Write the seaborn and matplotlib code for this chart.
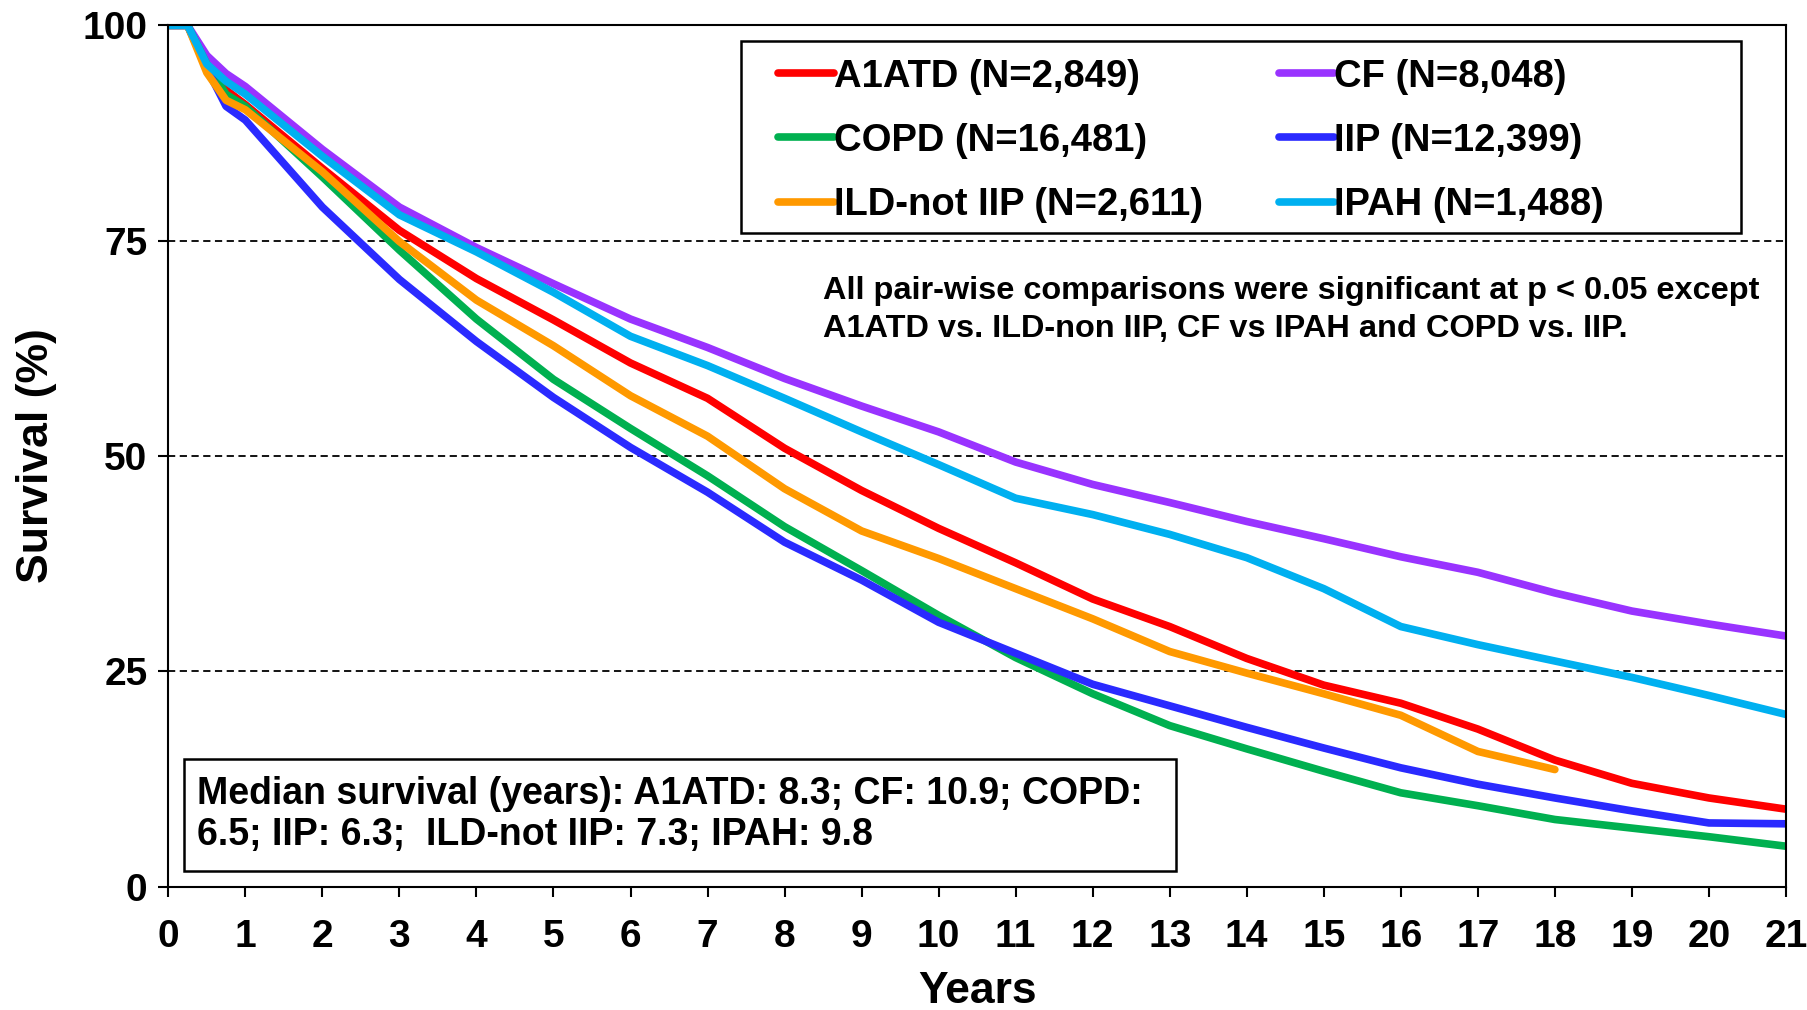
import numpy as np
import pandas as pd
import matplotlib
matplotlib.use("Agg")
import matplotlib.pyplot as plt
from matplotlib.patches import Rectangle
import seaborn as sns

years = [0, 0.25, 0.5, 0.75, 1, 2, 3, 4, 5, 6, 7, 8, 9, 10, 11, 12, 13, 14, 15, 16, 17, 18, 19, 20, 21]

a1atd = [100, 100, 95.5, 92.5, 90.8, 83.4, 76.2, 70.6, 65.8, 60.8, 56.7, 50.9, 46.0, 41.6, 37.6, 33.4, 30.2, 26.5, 23.4, 21.3, 18.3, 14.7, 12.0, 10.3, 9.0]
cf = [100, 100, 96.5, 94.4, 92.9, 85.6, 78.9, 74.2, 70.0, 65.9, 62.6, 59.0, 55.8, 52.8, 49.3, 46.7, 44.6, 42.4, 40.4, 38.3, 36.5, 34.1, 32.0, 30.5, 29.1]
copd = [100, 100, 95.5, 92.0, 90.6, 82.4, 73.9, 65.9, 58.9, 53.2, 47.7, 41.8, 36.7, 31.5, 26.6, 22.4, 18.7, 16.0, 13.4, 10.9, 9.4, 7.8, 6.8, 5.8, 4.7]
iip = [100, 100, 95.0, 90.6, 89.0, 78.9, 70.5, 63.3, 56.8, 51.0, 45.8, 40.0, 35.6, 30.7, 27.1, 23.5, 21.0, 18.5, 16.1, 13.8, 11.9, 10.3, 8.8, 7.4, 7.3]
ild = [100, 100, 94.5, 91.3, 90.2, 83.0, 74.9, 68.1, 62.8, 57.0, 52.3, 46.2, 41.3, 38.1, 34.6, 31.1, 27.3, 24.8, 22.4, 19.9, 15.7, 13.6, None, None, None]
ipah = [100, 100, 95.5, 93.5, 92.0, 84.8, 78.0, 73.7, 69.0, 63.9, 60.5, 56.7, 52.8, 49.0, 45.1, 43.2, 40.9, 38.2, 34.6, 30.2, 28.1, 26.2, 24.3, 22.2, 20.0]

labels = ["A1ATD (N=2,849)", "CF (N=8,048)", "COPD (N=16,481)",
          "IIP (N=12,399)", "ILD-not IIP (N=2,611)", "IPAH (N=1,488)"]
series = [a1atd, cf, copd, iip, ild, ipah]
colors = ["#FF0000", "#9933FF", "#00B050", "#2A2AFF", "#FF9900", "#00B0F0"]

x_ticks = list(range(0, 22))
y_ticks = [0, 25, 50, 75, 100]

note_text = ("All pair-wise comparisons were significant at p < 0.05 except\n"
             "A1ATD vs. ILD-non IIP, CF vs IPAH and COPD vs. IIP.")
median_text = ("Median survival (years): A1ATD: 8.3; CF: 10.9; COPD:\n"
               "6.5; IIP: 6.3;  ILD-not IIP: 7.3; IPAH: 9.8")

rows = []
for lab, vals in zip(labels, series):
    for x, v in zip(years, vals):
        if v is not None:
            rows.append({"Years": x, "Survival": v, "Group": lab})
df = pd.DataFrame(rows)

sns.set_style("ticks")
plt.rcParams["font.family"] = ["Liberation Sans", "DejaVu Sans"]
plt.rcParams["font.weight"] = "bold"
plt.rcParams["text.color"] = "black"
plt.rcParams["axes.labelcolor"] = "black"
plt.rcParams["xtick.color"] = "black"
plt.rcParams["ytick.color"] = "black"
plt.rcParams["lines.solid_capstyle"] = "round"
plt.rcParams["lines.solid_joinstyle"] = "round"

fig = plt.figure(figsize=(18.08, 10.10), dpi=100)
ax = fig.add_axes([0.0931, 0.1221, 0.8947, 0.8528])

palette = dict(zip(labels, colors))
sns.lineplot(data=df, x="Years", y="Survival", hue="Group", hue_order=labels,
             palette=palette, linewidth=5.5, errorbar=None, ax=ax, legend="auto")

for y in [25, 50, 75]:
    ax.axhline(y, color="black", linestyle=(0, (4, 2.5)), linewidth=1.3, zorder=0.5)

ax.set_xlim(0, 21)
ax.set_ylim(0, 100)
ax.set_xticks(x_ticks)
ax.set_yticks(y_ticks)
ax.tick_params(axis="both", labelsize=28, width=1.5, length=7, direction="out",
               color="black", labelcolor="black")
ax.tick_params(axis="x", pad=16)
ax.tick_params(axis="y", pad=8)
for lab in ax.get_xticklabels() + ax.get_yticklabels():
    lab.set_fontweight("bold")
for sp in ax.spines.values():
    sp.set_visible(True)
    sp.set_linewidth(1.5)
    sp.set_color("black")

ax.set_xlabel("Years", fontsize=32, fontweight="bold", labelpad=12, color="black")
ax.set_ylabel("Survival (%)", fontsize=32, fontweight="bold", labelpad=18, color="black")

# legend: frame drawn separately
ax.add_patch(Rectangle((0.3542, 0.759), 0.9722 - 0.3542, 0.9813 - 0.759,
                       transform=ax.transAxes, facecolor="white", edgecolor="black",
                       linewidth=1.8, zorder=4))
handles, hlabels = ax.get_legend_handles_labels()
hmap = dict(zip(hlabels, handles))
order = ["A1ATD (N=2,849)", "COPD (N=16,481)", "ILD-not IIP (N=2,611)",
         "CF (N=8,048)", "IIP (N=12,399)", "IPAH (N=1,488)"]
leg = ax.legend([hmap[o] for o in order], order, ncol=2, loc="upper left",
                bbox_to_anchor=(0.377, 0.9615), borderaxespad=0,
                prop={"size": 27.5, "weight": "bold"}, handlelength=1.45,
                handletextpad=0.0, columnspacing=2.0, labelspacing=0.74,
                borderpad=0, frameon=False)
leg.set_zorder(5)
for h in leg.get_lines():
    h.set_linewidth(5.5)

ax.text(0.405, 0.709, note_text, transform=ax.transAxes, fontsize=23.4,
        fontweight="bold", va="top", ha="left", linespacing=1.36, zorder=5)

ax.add_patch(Rectangle((0.00998, 0.01874), 0.623 - 0.00998, 0.1486 - 0.01874,
                       transform=ax.transAxes, facecolor="white", edgecolor="black",
                       linewidth=1.8, zorder=4))
ax.text(0.0178, 0.129, median_text, transform=ax.transAxes, fontsize=27,
        fontweight="bold", va="top", ha="left", linespacing=1.2, zorder=5)

fig.savefig("out.png", dpi=100)
